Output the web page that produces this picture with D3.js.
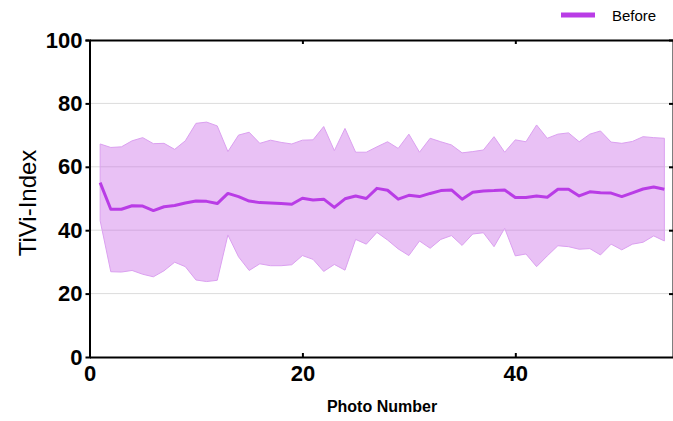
<!DOCTYPE html>
<meta charset="utf-8">
<style>
body { margin: 0; background: #fff; }
text { font-family: "Liberation Sans", Arial, sans-serif; }
g.grid line { stroke: #dcdcdc; stroke-width: 1px; }
g.axis path, g.axis line { stroke: #000; stroke-width: 2px; }
g.axis text { font-size: 22px; font-weight: bold; fill: #000; }
</style>
<body>
<div id="chart"></div>
<script src="https://d3js.org/d3.v7.min.js"></script>
<script>
// TiVi-Index per photo: mean line with upper/lower band
var photo = [1,2,3,4,5,6,7,8,9,10,11,12,13,14,15,16,17,18,19,20,21,22,23,24,25,26,27,
             28,29,30,31,32,33,34,35,36,37,38,39,40,41,42,43,44,45,46,47,48,49,50,51,52,53,54];
var meanVal = [55.0,46.6,46.6,47.7,47.6,46.2,47.4,47.8,48.6,49.2,49.1,48.4,51.6,50.6,49.2,48.7,48.6,48.4,
               48.2,50.1,49.5,49.8,47.2,49.9,50.8,50.0,53.2,52.6,49.8,51.0,50.6,51.6,52.5,52.7,49.8,52.0,
               52.4,52.5,52.7,50.3,50.3,50.8,50.4,52.9,52.9,50.8,52.1,51.8,51.7,50.6,51.8,53.0,53.6,52.9];
var upperVal = [67.2,66.1,66.3,68.2,69.2,67.3,67.4,65.5,68.2,73.7,74.1,72.9,64.8,70.0,70.9,67.4,68.4,67.7,
                67.2,68.4,68.5,72.7,65.1,72.1,64.6,64.6,66.3,67.9,65.8,70.3,64.6,69.0,67.9,66.9,64.4,64.8,
                65.3,69.5,64.6,68.5,67.9,73.2,69.0,70.3,70.7,67.9,70.3,71.3,67.8,67.4,68.0,69.5,69.2,69.0];
var lowerVal = [43.0,26.9,26.8,27.3,26.1,25.3,27.2,29.9,28.5,24.3,23.8,24.2,38.5,31.6,27.3,29.4,28.8,28.8,
                29.1,32.0,30.8,27.0,29.2,27.4,37.1,35.6,39.3,36.9,34.1,32.0,36.6,34.3,37.1,38.3,35.2,38.8,
                39.2,34.8,40.6,31.9,32.5,28.5,31.9,35.1,34.8,34.0,34.2,32.2,35.6,33.8,35.6,36.2,38.2,36.6];
var xTicks = [0, 20, 40];
var yTicks = [0, 20, 40, 60, 80, 100];
var seriesName = "Before";

var width = 673, height = 421;
var plotLeft = 89.5, plotRight = 675, plotTop = 40, plotBottom = 357;

var svg = d3.select("#chart").append("svg")
    .attr("width", width).attr("height", height);

var x = d3.scaleLinear().domain([0, 55]).range([plotLeft, plotRight]);
var y = d3.scaleLinear().domain([0, 100]).range([plotBottom, plotTop]);

var data = photo.map(function (p, i) {
  return {p: p, m: meanVal[i], hi: upperVal[i], lo: lowerVal[i]};
});

// gridlines
svg.append("g").attr("class", "grid")
  .selectAll("line").data(yTicks.filter(function (d) { return d > 0 && d < 100; }))
  .enter().append("line")
  .attr("x1", plotLeft).attr("x2", plotRight)
  .attr("y1", function (d) { return y(d); })
  .attr("y2", function (d) { return y(d); });

// band
var area = d3.area()
    .x(function (d) { return x(d.p); })
    .y0(function (d) { return y(d.lo); })
    .y1(function (d) { return y(d.hi); });
svg.append("path").datum(data)
  .attr("d", area)
  .attr("fill", "#c864e6")
  .attr("fill-opacity", 0.4)
  .attr("stroke", "#dba0f0")
  .attr("stroke-width", 1);

// mean line
svg.append("path").datum(data)
  .attr("d", d3.line().x(function (d) { return x(d.p); }).y(function (d) { return y(d.m); }))
  .attr("fill", "none")
  .attr("stroke", "#b93ce6")
  .attr("stroke-width", 3)
  .attr("stroke-linejoin", "round");

// axes (box with mirrored ticks)
svg.append("g").attr("class", "axis")
  .attr("transform", "translate(" + plotLeft + ",0)")
  .call(d3.axisLeft(y).tickValues(yTicks).tickSize(4).tickSizeOuter(4).tickPadding(3));

svg.append("g").attr("class", "axis")
  .attr("transform", "translate(0," + plotBottom + ")")
  .call(d3.axisBottom(x).tickValues(xTicks).tickSize(-4).tickSizeOuter(0).tickPadding(8));

svg.append("g").attr("class", "axis")
  .attr("transform", "translate(0," + plotTop + ")")
  .call(d3.axisTop(x).tickValues(xTicks).tickSize(-4).tickSizeOuter(0).tickFormat(""));

svg.append("g").attr("class", "axis")
  .attr("transform", "translate(" + (plotRight - 2) + ",0)")
  .call(d3.axisRight(y).tickValues(yTicks).tickSize(-4).tickSizeOuter(0).tickFormat(""));

// hide the x=0 tick marks on the horizontal axes
svg.selectAll("g.axis .tick").filter(function (d) { return d === 0; }).select("line").remove();

// axis titles
svg.append("text")
  .attr("transform", "translate(36,203) rotate(-90)")
  .attr("text-anchor", "middle")
  .style("font-size", "24px")
  .text("TiVi-Index");

svg.append("text")
  .attr("x", 382).attr("y", 412)
  .attr("text-anchor", "middle")
  .style("font-size", "16px").style("font-weight", "bold")
  .text("Photo Number");

// legend
svg.append("line")
  .attr("x1", 561).attr("x2", 595).attr("y1", 15).attr("y2", 15)
  .attr("stroke", "#b93ce6").attr("stroke-width", 5);
svg.append("text")
  .attr("x", 612).attr("y", 21)
  .style("font-size", "15px")
  .text(seriesName);
</script>
